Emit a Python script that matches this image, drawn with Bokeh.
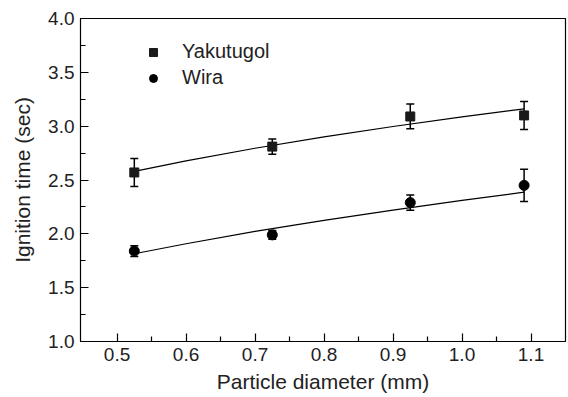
from bokeh.plotting import figure
from bokeh.models import (ColumnDataSource, Whisker, TeeHead, FixedTicker, Range1d,
                          Legend, LegendItem)
from bokeh.embed import file_html
from bokeh.resources import INLINE

# ---- data ----
diam = [0.525, 0.725, 0.925, 1.09]
yak_t = [2.57, 2.81, 3.09, 3.10]
yak_err = [0.13, 0.07, 0.115, 0.13]
wira_t = [1.84, 1.99, 2.29, 2.45]
wira_err = [0.05, 0.04, 0.07, 0.15]

fit_x = [0.525, 0.6, 0.7, 0.8, 0.9, 1.0, 1.09]
yak_fit = [2.58, 2.677, 2.795, 2.901, 2.997, 3.086, 3.161]
wira_fit = [1.815, 1.908, 2.022, 2.125, 2.221, 2.311, 2.387]

x_ticks = [0.5, 0.6, 0.7, 0.8, 0.9, 1.0, 1.1]
x_minor = [0.55, 0.65, 0.75, 0.85, 0.95, 1.05]
y_ticks = [1.0, 1.5, 2.0, 2.5, 3.0, 3.5, 4.0]
y_minor = [1.25, 1.75, 2.25, 2.75, 3.25, 3.75]

FONT = "Liberation Sans"

p = figure(width=568, height=397, output_backend="svg", toolbar_location=None,
           x_range=Range1d(0.447, 1.15), y_range=Range1d(1.0, 4.0),
           min_border_left=80, min_border_right=3, min_border_top=18,
           min_border_bottom=56)
p.background_fill_color = "white"
p.border_fill_color = "white"
p.grid.visible = False
p.outline_line_color = "black"
p.outline_line_width = 1.2

src_y = ColumnDataSource(dict(x=diam, y=yak_t,
                              lo=[a - b for a, b in zip(yak_t, yak_err)],
                              hi=[a + b for a, b in zip(yak_t, yak_err)]))
src_w = ColumnDataSource(dict(x=diam, y=wira_t,
                              lo=[a - b for a, b in zip(wira_t, wira_err)],
                              hi=[a + b for a, b in zip(wira_t, wira_err)]))

p.line(fit_x, yak_fit, line_color="black", line_width=1.2)
p.line(fit_x, wira_fit, line_color="black", line_width=1.2)

for s in (src_y, src_w):
    w = Whisker(source=s, base="x", lower="lo", upper="hi", line_color="black",
                line_width=1.5,
                lower_head=TeeHead(size=8, line_color="black", line_width=1.5),
                upper_head=TeeHead(size=8, line_color="black", line_width=1.5))
    p.add_layout(w)

r_sq = p.scatter("x", "y", source=src_y, marker="square", size=9,
                 fill_color="#1a1a1a", line_color="#1a1a1a")
r_ci = p.scatter("x", "y", source=src_w, marker="circle", size=10,
                 fill_color="black", line_color="black")

legend = Legend(items=[LegendItem(label="Yakutugol", renderers=[r_sq]),
                       LegendItem(label="Wira", renderers=[r_ci])],
                location=(63, 252), padding=0, margin=0, spacing=3,
                glyph_width=20, glyph_height=20, label_standoff=19,
                label_text_font=FONT, label_text_font_size="20px",
                label_text_color="#222222", border_line_color=None,
                background_fill_alpha=0)
p.add_layout(legend)

for ax in (p.xaxis[0], p.yaxis[0]):
    ax.major_tick_in = 8
    ax.major_tick_out = 0
    ax.minor_tick_in = 5
    ax.minor_tick_out = 0
    ax.axis_line_color = "black"
    ax.major_tick_line_color = "black"
    ax.minor_tick_line_color = "black"
    ax.major_tick_line_width = 1.2
    ax.minor_tick_line_width = 1.2
    ax.major_label_text_font = FONT
    ax.major_label_text_font_size = "19px"
    ax.major_label_text_color = "#222222"
    ax.axis_label_text_font = FONT
    ax.axis_label_text_font_size = "21px"
    ax.axis_label_text_font_style = "normal"
    ax.axis_label_text_color = "#222222"

p.xaxis.ticker = FixedTicker(ticks=x_ticks, minor_ticks=x_minor)
p.yaxis.ticker = FixedTicker(ticks=y_ticks, minor_ticks=y_minor)
p.xaxis.major_label_overrides = {t: f"{t:.1f}" for t in x_ticks}
p.yaxis.major_label_overrides = {t: f"{t:.1f}" for t in y_ticks}
p.xaxis.axis_label = "Particle diameter (mm)"
p.yaxis.axis_label = "Ignition time (sec)"
p.xaxis.major_label_standoff = 6
p.xaxis.axis_label_standoff = 6
p.yaxis.major_label_standoff = 6
p.yaxis.axis_label_standoff = 11

open("out.html", "w").write(file_html(p, INLINE))
